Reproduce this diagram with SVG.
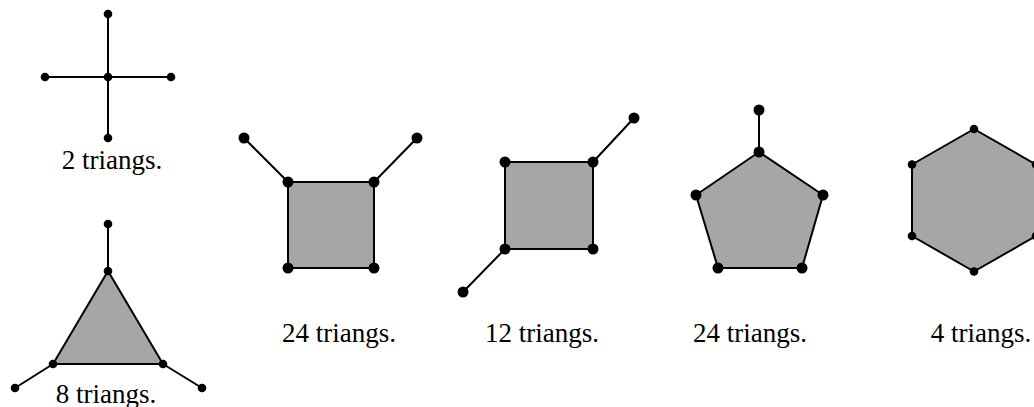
<svg xmlns="http://www.w3.org/2000/svg" width="1034" height="407" viewBox="0 0 1034 407">
<style>
.e{stroke:#000;stroke-width:2;fill:none}
.p{fill:#a6a6a6;stroke:#000;stroke-width:2;stroke-linejoin:round}
.d{fill:#000}
.t{font-family:"Liberation Serif","Times New Roman",serif;font-size:27px;fill:#000;text-anchor:middle}
</style>
<rect width="1034" height="407" fill="#fff"/>
<g id="connectors">
<path class="e" d="M108,14V138M45,77H171"/>
<path class="e" d="M108,224V271M53,364L15,388M163,364L202,388"/>
<path class="e" d="M288,182L244,138M374,182L417,138"/>
<path class="e" d="M593,162L634,118M505,249L463,292"/>
<path class="e" d="M759,110V152"/>
</g>
<g id="cross">
<circle class="d" cx="108" cy="14" r="4.3"/>
<circle class="d" cx="108" cy="77" r="4.3"/>
<circle class="d" cx="108" cy="138" r="4.3"/>
<circle class="d" cx="45" cy="77" r="4.3"/>
<circle class="d" cx="171" cy="77" r="4.3"/>
<text class="t" x="112" y="169">2 triangs.</text>
</g>
<g id="triangle">
<polygon class="p" points="108,271 53,364 163,364"/>
<circle class="d" cx="108" cy="224" r="4.3"/>
<circle class="d" cx="108" cy="271" r="4.3"/>
<circle class="d" cx="53" cy="364" r="4.3"/>
<circle class="d" cx="163" cy="364" r="4.3"/>
<circle class="d" cx="15" cy="388" r="4.3"/>
<circle class="d" cx="202" cy="388" r="4.3"/>
<text class="t" x="106" y="403">8 triangs.</text>
</g>
<g id="square1">
<polygon class="p" points="288,182 374,182 374,268 288,268"/>
<circle class="d" cx="288" cy="182" r="5.5"/>
<circle class="d" cx="374" cy="182" r="5.5"/>
<circle class="d" cx="288" cy="268" r="5.5"/>
<circle class="d" cx="374" cy="268" r="5.5"/>
<circle class="d" cx="244" cy="138" r="5.5"/>
<circle class="d" cx="417" cy="138" r="5.5"/>
<text class="t" x="339" y="342">24 triangs.</text>
</g>
<g id="square2">
<polygon class="p" points="505,162 593,162 593,249 505,249"/>
<circle class="d" cx="505" cy="162" r="5.5"/>
<circle class="d" cx="593" cy="162" r="5.5"/>
<circle class="d" cx="505" cy="249" r="5.5"/>
<circle class="d" cx="593" cy="249" r="5.5"/>
<circle class="d" cx="634" cy="118" r="5.5"/>
<circle class="d" cx="463" cy="292" r="5.5"/>
<text class="t" x="542" y="342">12 triangs.</text>
</g>
<g id="pentagon">
<polygon class="p" points="759,152 823,195 802,268 718,268 696,195"/>
<circle class="d" cx="759" cy="110" r="5.5"/>
<circle class="d" cx="759" cy="152" r="5.5"/>
<circle class="d" cx="823" cy="195" r="5.5"/>
<circle class="d" cx="802" cy="268" r="5.5"/>
<circle class="d" cx="718" cy="268" r="5.5"/>
<circle class="d" cx="696" cy="195" r="5.5"/>
<text class="t" x="750" y="342">24 triangs.</text>
</g>
<g id="hexagon">
<polygon class="p" points="974,129 1036,164.5 1036,236 974,271.5 912,236 912,164.5"/>
<circle class="d" cx="974" cy="129" r="4.3"/>
<circle class="d" cx="1036" cy="164.5" r="4.3"/>
<circle class="d" cx="1036" cy="236" r="4.3"/>
<circle class="d" cx="974" cy="271.5" r="4.3"/>
<circle class="d" cx="912" cy="236" r="4.3"/>
<circle class="d" cx="912" cy="164.5" r="4.3"/>
<text class="t" x="981" y="342">4 triangs.</text>
</g>
</svg>
